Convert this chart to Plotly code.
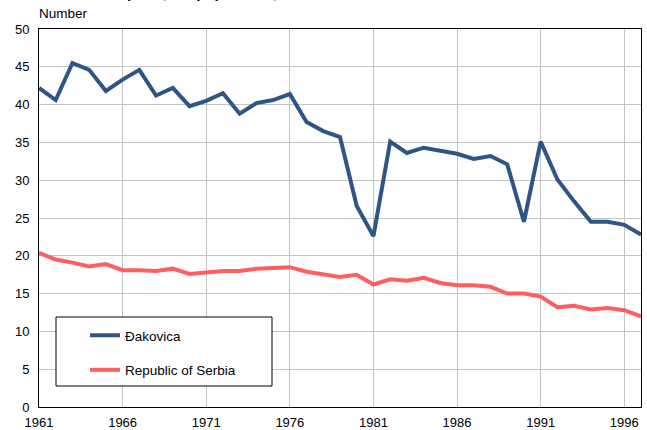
import plotly.graph_objects as go

years = list(range(1961, 1998))
dakovica = [42.2, 40.6, 45.5, 44.6, 41.8, 43.3, 44.6, 41.2, 42.2, 39.8,
            40.5, 41.5, 38.8, 40.2, 40.6, 41.4, 37.7, 36.5, 35.7, 26.6,
            22.6, 35.1, 33.6, 34.3, 33.9, 33.5, 32.8, 33.2, 32.1, 24.5,
            35.1, 30.1, 27.2, 24.5, 24.5, 24.1, 22.8]
serbia = [20.4, 19.5, 19.1, 18.6, 18.9, 18.1, 18.1, 18.0, 18.3, 17.6,
          17.8, 18.0, 18.0, 18.3, 18.4, 18.5, 17.9, 17.5, 17.2, 17.5,
          16.2, 16.9, 16.7, 17.1, 16.4, 16.1, 16.1, 15.9, 15.0, 15.0,
          14.6, 13.2, 13.4, 12.9, 13.1, 12.8, 12.0]
x_ticks = [1961, 1966, 1971, 1976, 1981, 1986, 1991, 1996]
y_ticks = [0, 5, 10, 15, 20, 25, 30, 35, 40, 45, 50]

W, H = 647, 430
L, R, T, B = 39, 6, 29, 23
pw, ph = W - L - R, H - T - B

def px(x):
    return (x - L) / pw

def py(y):
    return (H - B - y) / ph

fig = go.Figure()
fig.add_trace(go.Scatter(x=years, y=dakovica, mode="lines", name="Đakovica",
                         line=dict(color="#2E5586", width=4), legendgroup="a"))
fig.add_trace(go.Scatter(x=years, y=serbia, mode="lines", name="Republic of Serbia",
                         line=dict(color="#FF5F5F", width=4), legendgroup="b"))

fig.update_layout(
    width=W, height=H,
    margin=dict(l=L, r=R, t=T, b=B, pad=0, autoexpand=False),
    plot_bgcolor="white", paper_bgcolor="white",
    font=dict(family="Arial, Liberation Sans", size=13, color="black"),
    showlegend=True,
    legend=dict(x=px(85), y=py(320), xanchor="left", yanchor="top",
                bgcolor="rgba(0,0,0,0)", borderwidth=0,
                traceorder="grouped", tracegroupgap=14,
                font=dict(size=13.5), itemwidth=30),
    xaxis=dict(range=[1961, 1997], tickmode="array", tickvals=x_ticks,
               showgrid=True, gridcolor="#c4c4c4", gridwidth=1,
               showline=True, linecolor="black", linewidth=1, mirror=True,
               ticks="", zeroline=False, ticklabelstandoff=3, automargin=False),
    yaxis=dict(range=[0, 50], tickmode="array", tickvals=y_ticks,
               showgrid=True, gridcolor="#c4c4c4", gridwidth=1,
               showline=True, linecolor="black", linewidth=1, mirror=True,
               ticks="", zeroline=False, ticklabelstandoff=6, automargin=False),
    shapes=[dict(type="rect", xref="paper", yref="paper",
                 x0=px(56), x1=px(272), y0=py(386), y1=py(317),
                 line=dict(color="black", width=1), fillcolor="white",
                 layer="above")],
    annotations=[
        dict(text="Number", xref="paper", yref="paper", x=px(37), y=py(13),
             xanchor="left", yanchor="middle", showarrow=False,
             font=dict(size=13.5)),
        dict(text="<b>Live births per 1,000 population, 1961-1997</b>",
             xref="paper", yref="paper", x=px(45), y=py(3),
             xanchor="left", yanchor="bottom", showarrow=False,
             font=dict(size=15)),
    ],
)

fig.write_html("out.html", config={"displayModeBar": False},
               post_script="document.body.style.margin='0';document.body.style.overflow='hidden';")
